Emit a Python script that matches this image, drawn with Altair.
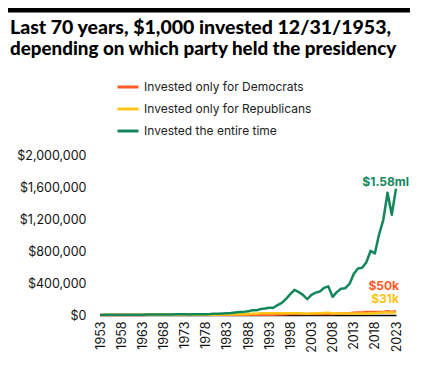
import altair as alt
import pandas as pd

years = list(range(1953, 2024))

series_names = [
    "Invested only for Democrats",
    "Invested only for Republicans",
    "Invested the entire time",
]
series_colors = ["#ff5a28", "#ffc516", "#13875a"]

title_lines = [
    "Last 70 years, $1,000 invested 12/31/1953,",
    "depending on which party held the presidency",
]

dems = (
    [1000] * 8
    + [1266, 1155, 1416, 1648, 1853, 1668, 2065, 2288]
    + [2288] * 8
    + [2129, 2267, 2687, 3540]
    + [3540] * 12
    + [3893, 3945, 5412, 6639, 8837, 11341, 13711, 12473]
    + [12473] * 8
    + [15708, 18038, 18417, 21343, 28202, 32016, 32458, 36278]
    + [36278] * 4
    + [46606, 38213, 48171]
)

reps = (
    [1000, 1526, 2024, 2174, 1947, 2798, 3136, 3146]
    + [3146] * 8
    + [2887, 2990, 3415, 4055, 3475, 2575, 3528, 4369]
    + [4369] * 4
    + [4164, 5014, 6134, 6511, 8545, 10125, 10713, 12486, 16416, 15914, 20724, 22277]
    + [22277] * 8
    + [19637, 15322, 19668, 21780, 22833, 26397, 27844, 17668]
    + [17668] * 8
    + [21487, 20578, 27000, 31863]
    + [31863] * 3
)

entire = [
    1000, 1571, 2084, 2238, 2004, 2881, 3228, 3239, 4102, 3740,
    4586, 5339, 6001, 5403, 6689, 7411, 6801, 7043, 8045, 9554,
    8187, 6067, 8311, 10292, 9573, 10196, 12084, 15920, 15172, 18270,
    22352, 23728, 31140, 36897, 39041, 45500, 59823, 57993, 75524, 81181,
    89275, 90462, 124114, 152264, 202663, 260088, 314421, 286028, 252131, 196738,
    252533, 279654, 293172, 338937, 357512, 226852, 285697, 328038, 334926, 388146,
    512935, 582284, 590320, 659800, 802383, 768447, 1008279, 1189897, 1528661, 1253337,
    1580000,
]

end_labels = ["$50k", "$31k", "$1.58ml"]
x_ticks = list(range(1953, 2024, 5))
y_ticks = [0, 400000, 800000, 1200000, 1600000, 2000000]

rows = []
for name, vals in zip(series_names, [dems, reps, entire]):
    for yr, v in zip(years, vals):
        rows.append({"year": yr, "value": v, "series": name})
df = pd.DataFrame(rows)

FONT = "Inter"

x_enc = alt.X(
    "year:Q",
    scale=alt.Scale(domain=[1953, 2023], nice=False, zero=False),
    axis=alt.Axis(
        values=x_ticks, format="d", labelAngle=270, title=None,
        ticks=False, grid=False, domain=True, domainColor="black",
        domainWidth=1.5, labelPadding=6, labelFontSize=12.5,
        labelColor="#111", labelFont=FONT, labelOverlap=False,
        labelFlush=False,
    ),
)
y_enc = alt.Y(
    "value:Q",
    scale=alt.Scale(domain=[0, 2000000]),
    axis=alt.Axis(
        values=y_ticks, format="$,.0f", title=None, ticks=False,
        grid=False, domain=False, labelPadding=14, labelFontSize=12.5,
        labelColor="#111", labelFont=FONT, labelOverlap=False,
        labelFlush=False,
    ),
)

lines = alt.Chart(df).mark_line(strokeWidth=2.5, strokeJoin="round").encode(
    x=x_enc,
    y=y_enc,
    color=alt.Color(
        "series:N",
        scale=alt.Scale(domain=series_names, range=series_colors),
        legend=alt.Legend(
            orient="none", legendX=16, legendY=-80, title=None,
            symbolType="stroke", symbolSize=441, symbolStrokeWidth=3,
            labelFontSize=12, labelColor="#222", labelFont=FONT,
            rowPadding=4, labelOffset=4, padding=0, labelLimit=300,
        ),
    ),
    order=alt.Order("series:N"),
)

label_layers = []
offsets = [(3, -21), (3, -9), (13, -3)]
for name, vals, text, color, (ddx, ddy) in zip(
    series_names, [dems, reps, entire], end_labels, series_colors, offsets
):
    ldf = pd.DataFrame({"year": [years[-1]], "value": [vals[-1]], "label": [text]})
    label_layers.append(
        alt.Chart(ldf).mark_text(
            align="right", baseline="alphabetic", dx=ddx, dy=ddy,
            fontWeight="bold", fontSize=12, font=FONT, color=color,
        ).encode(x=x_enc, y=y_enc, text="label:N")
    )

frame_data = alt.Data(values=[{"k": 0}])

title_layers = []
for line, ypos, fsize in zip(title_lines, [-121, -100], [19.5, 18.8]):
    title_layers.append(
        alt.Chart(frame_data).mark_text(
            align="left", baseline="alphabetic", fontSize=fsize, fontWeight=900,
            font="Lato", color="black",
        ).encode(x=alt.value(-90), y=alt.value(ypos), text=alt.value(line))
    )

frame = [
    alt.Chart(frame_data).mark_rect(color="black").encode(
        x=alt.value(-92), x2=alt.value(310), y=alt.value(-147), y2=alt.value(-142.5)
    ),
]

chart = alt.layer(lines, *label_layers, *title_layers, *frame).properties(
    width=296,
    height=160,
    autosize=alt.AutoSizeParams(type="none"),
    padding={"left": 92, "top": 147, "right": 21, "bottom": 50},
    background="white",
).configure_view(stroke=None).configure_axis(labelOverlap=False)

chart.save("out.html", embed_options={"renderer": "svg", "actions": False})
